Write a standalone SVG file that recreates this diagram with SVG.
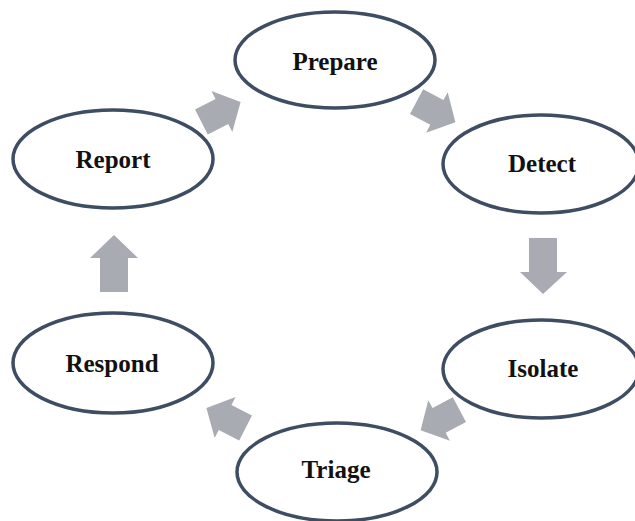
<svg xmlns="http://www.w3.org/2000/svg" width="635" height="521" viewBox="0 0 635 521">
<style>
.n{fill:#ffffff;stroke:#3e4d62;stroke-width:3.5}
.t{font-family:"Liberation Serif","Times New Roman",serif;font-weight:bold;font-size:25px;fill:#111;text-anchor:middle}
.a{fill:#a8abb2}
</style>
<defs>
<polygon id="diag" points="-22,-14 1,-14 1,-23 22,0 1,23 1,14 -22,14"/>
</defs>
<rect width="635" height="521" fill="#ffffff"/>
<g id="connectors">
<use href="#diag" class="a" transform="translate(221,112) rotate(-27)"/>
<use href="#diag" class="a" transform="translate(436,112) rotate(28)"/>
<polygon class="a" points="529,238 557,238 557,272 567,272 543,294 520,272 529,272"/>
<use href="#diag" class="a" transform="translate(440,420) rotate(152)"/>
<use href="#diag" class="a" transform="translate(226,418) rotate(207)"/>
<polygon class="a" points="100,292 128,292 128,258 138,258 114,235 90,258 100,258"/>
</g>
<g id="prepare"><ellipse class="n" cx="335" cy="60" rx="100" ry="48"/><text class="t" x="335" y="70">Prepare</text></g>
<g id="detect"><ellipse class="n" cx="541" cy="164" rx="98" ry="49"/><text class="t" x="542" y="172">Detect</text></g>
<g id="isolate"><ellipse class="n" cx="541" cy="369" rx="98" ry="49"/><text class="t" x="543" y="377">Isolate</text></g>
<g id="triage"><ellipse class="n" cx="337" cy="472" rx="100" ry="49"/><text class="t" x="336" y="478">Triage</text></g>
<g id="respond"><ellipse class="n" cx="113" cy="363" rx="100" ry="50"/><text class="t" x="112" y="372">Respond</text></g>
<g id="report"><ellipse class="n" cx="113" cy="159" rx="100" ry="49"/><text class="t" x="113" y="168">Report</text></g>
</svg>
